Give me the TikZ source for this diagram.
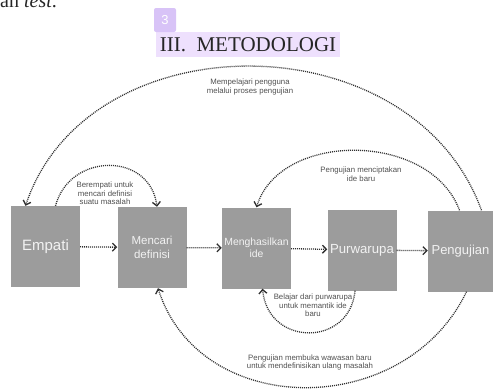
\documentclass[tikz,border=0pt]{standalone}
\usepackage{fontspec}
\setmainfont{Liberation Serif}
\setsansfont{Liberation Sans}
\usetikzlibrary{arrows.meta}
\definecolor{boxgray}{HTML}{9C9C9C}
\definecolor{boxtext}{HTML}{F2F2F2}
\definecolor{linegray}{HTML}{303030}
\definecolor{notegray}{HTML}{505050}
\definecolor{badgebg}{HTML}{D8C3F7}
\definecolor{headbg}{HTML}{EEE0FD}
\begin{document}
\begin{tikzpicture}[x=1pt,y=-1pt]
        \tikzset{
            stage/.style={rectangle,fill=boxgray,text=boxtext,minimum width=69pt,minimum height=81pt,inner sep=1pt,align=center},
            note/.style={align=center,text=notegray,font=\sffamily\fontsize{7.8}{8.6}\selectfont,inner sep=0pt},
            flow/.style={draw=linegray,line width=1.3pt,dash pattern=on 1pt off 1pt,-{Straight Barb[length=4pt,width=8pt,line width=1.3pt]}},
        }
        \useasboundingbox (0,0) rectangle (494,388);

        % page text above the figure
        \node[anchor=base west,inner sep=0pt,text=black!85,font=\fontsize{20}{22}\selectfont] (prev) at (0,8) {an \textit{test}.};
        \node[fill=headbg,minimum width=184pt,minimum height=25pt,inner sep=0pt,text=black!85,font=\fontsize{21}{23}\selectfont] (head) at (248,44.5) {III.\hspace{0.5em}METODOLOGI};
        \node[fill=badgebg,rounded corners=2pt,minimum width=22pt,minimum height=24pt,inner sep=0pt,text=white,font=\sffamily\fontsize{13}{15}\selectfont] (num) at (165,20) {3};

        % stages
        \node[stage,font=\sffamily\fontsize{15}{17}\selectfont] (emp) at (45.5,246.5) {Empati};
        \node[stage,font=\sffamily\fontsize{11.5}{13.5}\selectfont] (def) at (152,247.5) {Mencari\\definisi};
        \node[stage,font=\sffamily\fontsize{10.4}{12.5}\selectfont] (ide) at (256.5,248) {Menghasilkan\\ide};
        \node[stage,font=\sffamily\fontsize{13.2}{15}\selectfont] (pro) at (362,250) {Purwarupa};
        \node[stage,minimum width=65pt,font=\sffamily\fontsize{13}{15}\selectfont] (tes) at (460.5,251) {Pengujian};

        \draw[flow] (emp) -- (def);
        \draw[flow] (def) -- (ide);
        \draw[flow] (ide) -- (pro);
        \draw[flow] (pro) -- (tes);

        % feedback loops
        \draw[flow] ([xshift=21pt]tes.north) .. controls (412,19) and (88,19) .. ([xshift=-20pt]emp.north);
        \draw[flow] ([xshift=10pt]emp.north) .. controls (70,152) and (150,152) .. ([xshift=5pt]def.north);
        \draw[flow] ([xshift=-1pt]tes.north) .. controls (430,131) and (280,131) .. (ide.north);
        \draw[flow] ([xshift=-7pt]pro.south) .. controls (350,347) and (268,347) .. ([xshift=6pt]ide.south);
        \draw[flow] ([xshift=6pt]tes.south) .. controls (405,420) and (200,420) .. ([xshift=6pt]def.south);

        \node[note] (n1) at (250,87) {Mempelajari pengguna\\melalui proses pengujian};
        \node[note] (n2) at (105,193.5) {Berempati untuk\\mencari definisi\\suatu masalah};
        \node[note] (n3) at (361,174.5) {Pengujian menciptakan\\ide baru};
        \node[note] (n4) at (313,305.5) {Belajar dari purwarupa\\untuk memantik ide\\baru};
        \node[note] (n5) at (310,362.5) {Pengujian membuka wawasan baru\\untuk mendefinisikan ulang masalah};
    \end{tikzpicture}
\end{document}
